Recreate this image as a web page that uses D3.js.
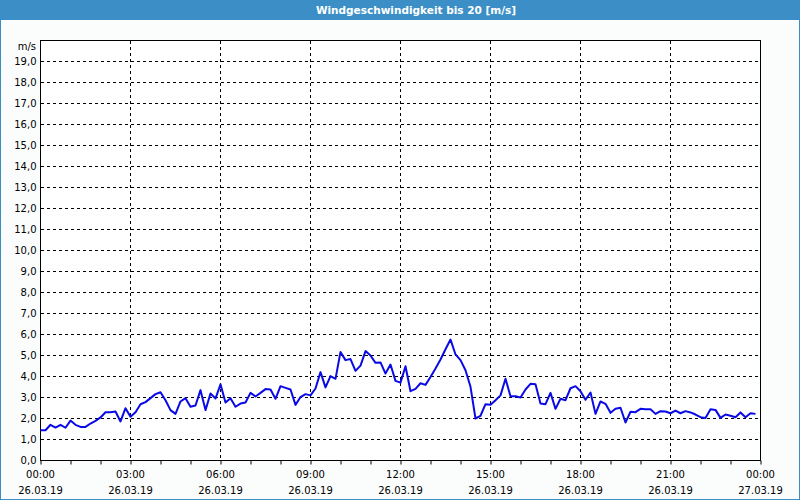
<!DOCTYPE html>
<html><head><meta charset="utf-8">
<script src="https://cdn.jsdelivr.net/npm/d3@7"></script>
<style>html,body{margin:0;padding:0;background:#fff;}svg{display:block;}</style>
</head><body>
<svg id="chart" width="800" height="500"></svg>
<script>
const title = "Windgeschwindigkeit bis 20 [m/s]";
const unitLabel = "m/s";
const startTime = "2019-03-26T00:00:00";
const endTime = "2019-03-27T00:00:00";
const stepMinutes = 10;
const yTicks = [0,1,2,3,4,5,6,7,8,9,10,11,12,13,14,15,16,17,18,19];
const xTickHours = [0,3,6,9,12,15,18,21,24];
const windSpeed = [
 1.44,1.44,1.70,1.57,1.70,1.56,1.90,1.70,1.60,1.60,1.76,1.89,2.05,2.30,2.30,2.33,1.86,2.49,2.08,2.30,
 2.68,2.78,2.97,3.16,3.25,2.87,2.40,2.22,2.81,2.97,2.56,2.62,3.35,2.40,3.19,2.95,3.63,
 2.76,2.97,2.56,2.71,2.76,3.22,3.05,3.22,3.40,3.38,2.94,3.54,3.46,3.38,2.65,3.02,3.16,3.10,3.43,4.21,
 3.48,4.02,3.89,5.17,4.78,4.83,4.27,4.52,5.21,5.00,4.65,4.67,4.14,4.57,3.79,3.71,
 4.49,3.30,3.41,3.68,3.60,3.98,4.38,4.81,5.30,5.76,5.05,4.78,4.30,3.51,2.00,2.13,2.68,2.65,2.87,3.10,
 3.89,3.06,3.06,3.00,3.38,3.65,3.63,2.71,2.68,3.22,2.46,2.94,2.87,3.44,3.54,3.30,
 2.89,3.24,2.22,2.81,2.70,2.27,2.46,2.51,1.81,2.32,2.30,2.46,2.44,2.44,2.22,2.35,2.33,2.25,2.38,2.25,
 2.35,2.29,2.19,2.06,2.02,2.44,2.41,2.03,2.19,2.13,2.06,2.29,2.06,2.25,2.22
];

const svg = d3.select("#chart");
const W = 800, H = 500;
const t0 = new Date(startTime), t1 = new Date(endTime);
const data = windSpeed.map((v,i)=>({t:new Date(t0.getTime()+i*stepMinutes*60000), v}));

const x = d3.scaleTime().domain([t0,t1]).range([40.5,760.5]);
const y = d3.scaleLinear().domain([0,20]).range([460.5,40.5]);

// background & frame
svg.append("rect").attr("x",0).attr("y",0).attr("width",W).attr("height",H).attr("fill","#3c8fc6");
svg.append("rect").attr("x",1).attr("y",20).attr("width",W-2).attr("height",H-21).attr("fill","#fbfdfc");
svg.append("text").attr("x",416).attr("y",14).attr("text-anchor","middle")
  .attr("font-family","DejaVu Sans, Verdana, sans-serif").attr("font-size",10.5).attr("font-weight","bold")
  .attr("fill","#fff").text(title);

// plot area
svg.append("rect").attr("x",40.5).attr("y",40.5).attr("width",720).attr("height",420).attr("fill","#ffffff");

const font = "DejaVu Sans, Verdana, sans-serif";
// horizontal grid
svg.append("g").selectAll("line").data(yTicks.filter(d=>d>0)).join("line")
  .attr("x1",40.5).attr("x2",760.5).attr("y1",d=>y(d)).attr("y2",d=>y(d))
  .attr("stroke","#000").attr("stroke-dasharray","3,3").attr("shape-rendering","crispEdges");
// vertical grid
const gridTimes = xTickHours.slice(1,-1).map(h=>new Date(t0.getTime()+h*3600000));
svg.append("g").selectAll("line").data(gridTimes).join("line")
  .attr("x1",d=>x(d)).attr("x2",d=>x(d)).attr("y1",40.5).attr("y2",460.5)
  .attr("stroke","#000").attr("stroke-dasharray","3,3").attr("shape-rendering","crispEdges");

// y axis
const yAxis = d3.axisLeft(y).tickValues(yTicks).tickSize(0).tickPadding(4)
  .tickFormat(d=>d3.format(".1f")(d).replace(".",","));
const gy = svg.append("g").attr("transform","translate(40.5,0)").call(yAxis);
gy.select(".domain").remove();
gy.selectAll("text").attr("font-family",font).attr("font-size",10).attr("fill","#000");
svg.append("text").attr("x",36).attr("y",50).attr("text-anchor","end")
  .attr("font-family",font).attr("font-size",10).attr("fill","#000").text(unitLabel);

// x axis: hourly minor ticks
const hourTicks = d3.timeHour.range(t0, new Date(t1.getTime()+1));
const xAxis = d3.axisBottom(x).tickValues(hourTicks).tickSize(4).tickFormat("");
const gx = svg.append("g").attr("transform","translate(0,460.5)").call(xAxis);
gx.select(".domain").remove();
gx.selectAll("line").attr("stroke","#000");

const labelTimes = xTickHours.map(h=>new Date(t0.getTime()+h*3600000));
const fmtT = d3.timeFormat("%H:%M"), fmtD = d3.timeFormat("%d.%m.%y");
const lab = svg.append("g").selectAll("g").data(labelTimes).join("g")
  .attr("transform",d=>`translate(${x(d)},0)`);
lab.append("text").attr("y",478).attr("text-anchor","middle").attr("font-family",font).attr("font-size",10).attr("fill","#000").text(d=>fmtT(d));
lab.append("text").attr("y",494).attr("text-anchor","middle").attr("font-family",font).attr("font-size",10).attr("fill","#000").text(d=>fmtD(d));

// plot border
svg.append("rect").attr("x",40.5).attr("y",40.5).attr("width",720).attr("height",420)
  .attr("fill","none").attr("stroke","#000").attr("stroke-width",1);

// line
const line = d3.line().x(d=>x(d.t)).y(d=>y(d.v));
svg.append("path").datum(data).attr("d",line).attr("fill","none")
  .attr("stroke","#0a0ae6").attr("stroke-width",2).attr("stroke-linejoin","round");
</script>
</body></html>
